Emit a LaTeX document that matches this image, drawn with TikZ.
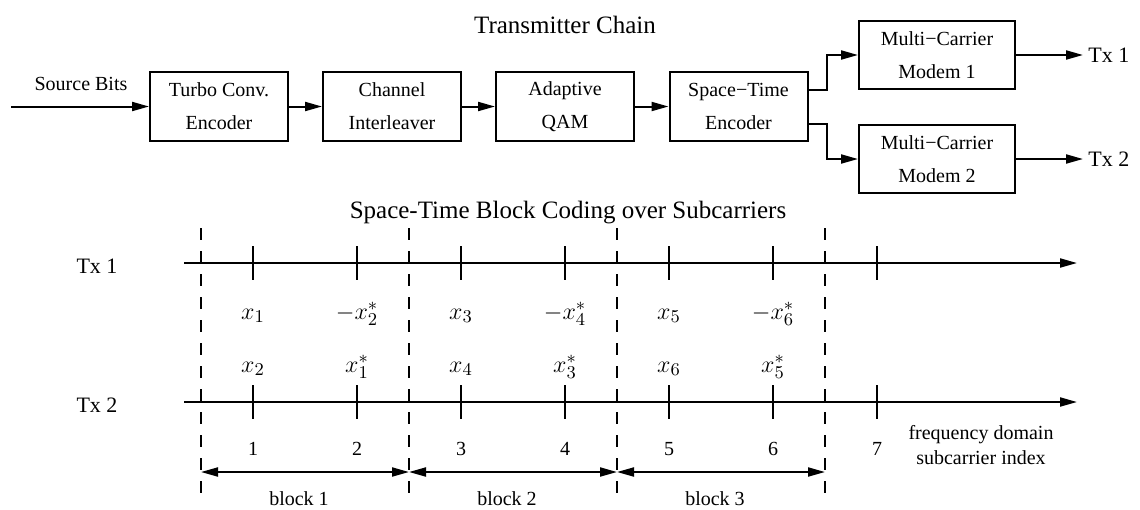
\documentclass[tikz,border=0pt]{standalone}
\usepackage[no-math]{fontspec}
\setmainfont{Liberation Serif}
\usepackage{amsmath}
\usetikzlibrary{arrows.meta}

\begin{document}
\begin{tikzpicture}[x=0.5pt,y=-0.5pt,
		blk/.style={draw,line width=1pt,minimum width=69pt,minimum height=34.5pt,
			inner sep=0pt,align=center,font=\fontsize{10}{16.5}\selectfont},
		mcm/.style={blk,minimum width=78pt,minimum height=34pt},
		lbl/.style={inner sep=0pt,font=\fontsize{10}{12.5}\selectfont},
		txl/.style={inner sep=0pt,font=\fontsize{11}{13}\selectfont},
		ttl/.style={inner sep=0pt,font=\fontsize{12.5}{15}\selectfont},
		sym/.style={inner sep=0pt,anchor=base,font=\fontsize{13}{15}\selectfont},
		flow/.style={line width=1pt,-{Triangle[length=8.5pt,width=4.5pt]}},
		bothway/.style={line width=1pt,{Triangle[length=8.5pt,width=4.5pt]}-{Triangle[length=8.5pt,width=4.5pt]}},
		sep/.style={line width=1pt,dash pattern=on 6pt off 5.5pt}]
	\useasboundingbox (0,0) rectangle (1140,509);
	
	% Transmitter chain
	\node[ttl] (tchain) at (565,25) {Transmitter Chain};
	\node[blk] (tcenc) at (219,106.5) {Turbo Conv.\\Encoder};
	\node[blk] (intlv) at (392,106.5) {Channel\\Interleaver};
	\node[blk] (aqam) at (565,106.5) {Adaptive\\QAM};
	\node[blk] (stenc) at (738.5,106.5) {Space−Time\\Encoder};
	\node[mcm] (mcm1) at (937,55) {Multi−Carrier\\Modem 1};
	\node[mcm] (mcm2) at (937,159) {Multi−Carrier\\Modem 2};
	
	\coordinate (src) at (11,106.5);
	\node[lbl] (srclbl) at (81,84) {Source Bits};
	\node[txl,anchor=west] (tx1out) at (1088,55) {Tx 1};
	\node[txl,anchor=west] (tx2out) at (1088,159) {Tx 2};
	
	\draw[flow] (src) -- (tcenc);
	\draw[flow] (tcenc) -- (intlv);
	\draw[flow] (intlv) -- (aqam);
	\draw[flow] (aqam) -- (stenc);
	\draw[flow] ([yshift=8.25pt]stenc.east) -- ++(18,0) |- (mcm1);
	\draw[flow] ([yshift=-8.75pt]stenc.east) -- ++(18,0) |- (mcm2);
	\draw[flow] (mcm1) -- ([xshift=-2.5pt]tx1out.west);
	\draw[flow] (mcm2) -- ([xshift=-2.5pt]tx2out.west);
	
	% Space-time block coding over subcarriers
	\node[ttl] (stbc) at (568,213) {Space-Time Block Coding over Subcarriers};
	\node[txl] (tx1) at (97,266) {Tx 1};
	\node[txl] (tx2) at (97,405) {Tx 2};
	
	\coordinate (a1s) at (184,263);
	\coordinate (a1e) at (1077,263);
	\coordinate (a2s) at (184,402);
	\coordinate (a2e) at (1077,402);
	\draw[flow] (a1s) -- (a1e);
	\draw[flow] (a2s) -- (a2e);
	
	% subcarrier ticks and indices
	\foreach \k in {1,...,7} {
		\draw[line width=1pt] (149+104*\k,246) -- (149+104*\k,280);
		\draw[line width=1pt] (149+104*\k,385) -- (149+104*\k,419);
		\node[lbl] (n\k) at (149+104*\k,449) {\k};
	}
	
	% symbols sent on each subcarrier
	\foreach \k/\up/\dn in {1/{x_1}/{x_2},2/{-x_2^*}/{x_1^*},3/{x_3}/{x_4},
			4/{-x_4^*}/{x_3^*},5/{x_5}/{x_6},6/{-x_6^*}/{x_5^*}} {
		\node[sym] (u\k) at (149+104*\k,319) {$\up$};
		\node[sym] (d\k) at (149+104*\k,372) {$\dn$};
	}
	
	% block boundaries
	\foreach \j in {0,...,3} {
		\coordinate (bl\j) at (201+208*\j,472);
		\draw[sep] (201+208*\j,228) -- (201+208*\j,493);
	}
	\foreach \j/\n in {0/1,1/2,2/3} {
		\draw[bothway] (bl\j) -- (bl\n);
		\node[lbl] (blk\n) at (299+208*\j,499) {block \n};
	}
	
	\node[lbl,align=center] (fdom) at (981,445) {frequency domain\\subcarrier index};
\end{tikzpicture}
\end{document}
